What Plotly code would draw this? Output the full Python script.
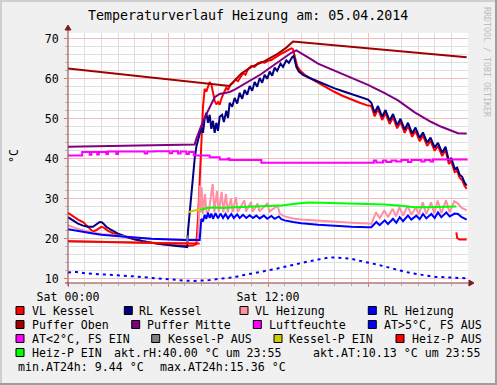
import plotly.graph_objects as go

# ---------------- data (hours since Sat 00:00, value) ----------------
VL_KESSEL = [(0,26.5),(0.3,25.6),(0.6,24.8),(0.9,24.2),(1.2,23.0),(1.5,21.8),(1.7,22.2),(2.0,23.0),(2.15,22.8),
    (2.4,22.0),(2.7,21.4),(3.0,21.0),(3.5,20.3),(4.0,19.8),(4.5,19.4),(5.0,19.0),(5.5,18.7),(6.0,18.5),(6.5,18.3),
    (7.0,18.2),(7.5,18.3),(7.7,18.7),(7.8,25),(7.9,36),(8.0,46),(8.1,53),(8.2,57.5),(8.3,56.8),(8.4,58.0),(8.5,59.2),
    (8.6,58.6),(8.7,56.0),(8.8,54.5),(8.9,53.6),(9.0,54.2),(9.1,53.5),(9.2,55.0),(9.35,56.5),(9.5,57.8),(9.6,57.2),
    (9.75,58.6),(9.9,59.0),(10.05,59.8),(10.2,59.4),(10.35,60.6),(10.5,61.4),(10.65,61.0),(10.8,62.4),(11.0,63.2),
    (11.2,63.0),(11.4,63.9),(11.6,64.2),(11.8,64.0),(12.0,64.5),(12.2,64.7),(12.4,65.3),(12.6,65.8),(12.8,66.3),
    (13.0,66.7),(13.2,67.2),(13.4,67.6),(13.5,67.4),(13.6,65.5),(13.75,63.2),(13.9,62.2),(14.2,61.0),(14.6,60.0),
    (15.0,59.0),(15.5,57.8),(16.0,56.7),(16.5,55.7),(17.0,54.8),(17.5,54.0),(18.0,53.3),(18.2,53.2),(18.4,50.6),
    (18.6,52.4),(18.85,49.7),(19.05,51.4),(19.3,48.7),(19.5,50.4),(19.75,47.6),(19.95,49.2),(20.2,46.5),(20.4,48.2),
    (20.65,45.5),(20.85,47.0),(21.1,44.4),(21.3,45.8),(21.55,43.2),(21.75,44.5),(22.0,42.0),(22.2,43.2),(22.45,40.7),
    (22.65,42.2),(22.85,38.7),(23.0,39.4),(23.2,36.7),(23.35,37.0),(23.5,35.2),(23.65,34.7),(23.8,33.2),(23.92,32.5)]

RL_KESSEL = [(0,25.4),(0.3,24.5),(0.6,23.8),(0.9,23.3),(1.2,23.0),(1.5,23.0),(1.7,23.6),(1.9,24.2),(2.05,24.1),
    (2.3,23.0),(2.6,22.2),(3.0,21.3),(3.5,20.5),(4.0,19.9),(4.5,19.4),(5.0,19.0),(5.5,18.7),(6.0,18.4),(6.5,18.2),
    (7.0,18.0),(7.15,17.9),(7.2,22),(7.3,27),(7.4,31),(7.5,35),(7.6,40),(7.7,43),(7.8,44.8),(7.9,46.5),(8.0,47.8),
    (8.1,46.5),(8.2,50.0),(8.3,51.5),(8.4,49.0),(8.5,51.0),(8.6,47.5),(8.7,49.5),(8.8,46.5),(8.9,49.0),(9.0,47.0),
    (9.1,50.5),(9.25,51.0),(9.35,49.2),(9.5,52.0),(9.6,50.2),(9.7,54.0),(9.85,53.0),(10.0,55.2),(10.15,53.8),
    (10.3,56.5),(10.45,55.0),(10.6,57.2),(10.75,56.0),(10.9,58.2),(11.05,57.0),(11.2,59.2),(11.35,58.0),(11.5,60.2),
    (11.65,59.0),(11.8,61.0),(11.95,60.0),(12.1,61.8),(12.25,60.8),(12.4,62.8),(12.55,62.0),(12.75,63.8),(12.9,63.0),
    (13.1,64.6),(13.25,64.0),(13.45,65.4),(13.55,65.7),(13.7,63.0),(13.85,61.8),(14.1,61.0),(14.5,60.2),(15.0,59.3),
    (15.5,58.4),(16.0,57.6),(16.5,56.9),(17.0,56.2),(17.5,55.5),(18.0,54.8),(18.2,54.0),(18.4,51.5),(18.6,53.2),
    (18.85,50.5),(19.05,52.2),(19.3,49.5),(19.5,51.2),(19.75,48.4),(19.95,50.0),(20.2,47.3),(20.4,49.0),(20.65,46.3),
    (20.85,47.8),(21.1,45.2),(21.3,46.6),(21.55,44.0),(21.75,45.3),(22.0,42.8),(22.2,44.0),(22.45,41.5),(22.65,43.0),
    (22.85,39.5),(23.0,40.2),(23.2,37.5),(23.35,37.8),(23.5,36.0),(23.65,35.5),(23.8,34.0),(23.92,33.3)]

VL_HEIZUNG = [(0,23.4),(0.5,22.6),(1.0,22.0),(1.5,21.5),(2.0,21.2),(3.0,20.7),(4.0,20.3),(5.0,20.0),(6.0,19.8),
    (7.0,19.7),(7.8,19.6),(7.85,24.5),(7.9,33.3),(7.95,26.5),(8.02,32.9),(8.1,26.3),(8.22,31.2),(8.32,26.5),
    (8.45,27.0),(8.68,33.7),(8.78,26.6),(8.94,32.0),(9.04,26.7),(9.22,31.7),(9.32,26.6),(9.48,31.2),(9.58,26.6),
    (9.78,30.0),(9.88,26.7),(10.08,30.4),(10.18,26.7),(10.58,29.6),(10.68,26.8),(10.98,29.2),(11.08,26.8),
    (11.38,28.8),(11.48,26.9),(11.98,28.9),(12.08,26.8),(12.58,28.3),(12.7,26.3),(13.0,25.6),(13.5,25.1),
    (14.0,24.8),(15.0,24.5),(16.0,24.2),(17.0,24.0),(18.0,23.8),(18.2,23.7),(18.48,26.6),(18.7,25.2),(18.98,27.1),
    (19.2,25.4),(19.48,27.5),(19.68,25.6),(19.88,27.9),(20.1,25.8),(20.38,28.3),(20.6,26.0),(20.88,27.9),(21.05,26.0),
    (21.28,29.1),(21.5,26.2),(21.78,29.1),(21.98,26.3),(22.18,29.6),(22.4,26.4),(22.68,29.6),(22.9,26.6),(23.18,29.4),
    (23.4,28.8),(23.6,27.8),(23.92,27.1)]

RL_HEIZUNG = [(0,22.4),(0.5,22.0),(1.0,21.6),(1.5,21.3),(2.0,21.0),(3.0,20.6),(4.0,20.3),(5.0,20.0),(6.0,19.8),
    (7.0,19.7),(7.9,19.7),(7.95,22.5),(8.0,25.0),(8.1,24.3),(8.2,26.0),(8.3,25.0),(8.4,26.5),(8.5,25.2),(8.6,26.3),
    (8.7,25.0),(8.85,26.4),(9.0,25.1),(9.15,26.3),(9.3,25.2),(9.45,26.2),(9.6,25.1),(9.8,26.2),(9.95,25.2),(10.15,26.1),
    (10.3,25.2),(10.5,26.0),(10.7,25.2),(10.9,25.9),(11.1,25.2),(11.3,25.8),(11.5,25.1),(11.75,25.8),(11.95,25.0),
    (12.2,25.7),(12.4,25.0),(12.65,25.6),(12.8,24.9),(13.0,24.6),(13.5,24.2),(14.0,23.9),(15.0,23.5),(16.0,23.2),
    (17.0,23.0),(18.0,22.9),(18.2,22.9),(18.5,24.2),(18.7,23.4),(19.0,24.6),(19.2,23.7),(19.5,25.0),(19.7,24.0),
    (19.9,25.4),(20.1,24.4),(20.4,25.8),(20.6,24.8),(20.9,25.8),(21.1,24.9),(21.3,26.2),(21.5,25.1),(21.8,26.2),
    (22.0,25.2),(22.2,26.6),(22.4,25.4),(22.7,26.6),(22.9,25.6),(23.2,26.3),(23.4,26.2),(23.6,25.5),(23.92,24.8)]

PUFFER_OBEN = [(0,62.6),(9.7,58.2),(10.0,59.6),(10.4,61.3),(11.0,63.0),(11.8,64.4),(12.6,66.3),(13.1,67.8),
    (13.5,69.3),(23.92,65.4)]

PUFFER_MITTE = [(0,43.0),(3.0,43.2),(6.0,43.4),(7.6,43.6),(7.7,45.0),(7.85,46.8),(8.0,48.3),(8.2,50.3),(8.4,52.1),
    (8.6,54.0),(8.8,55.4),(9.1,56.2),(9.4,56.5),(9.7,56.7),(10.0,57.3),(10.4,58.3),(10.8,59.2),(11.2,60.2),(11.6,61.2),
    (12.1,62.7),(12.6,64.2),(13.0,65.4),(13.4,66.5),(13.7,67.1),(14.0,66.4),(14.5,65.1),(15.0,63.8),(16.0,62.0),
    (17.0,60.4),(18.0,58.5),(19.0,56.4),(19.8,54.6),(20.8,51.6),(21.8,49.2),(22.4,48.0),(22.8,47.3),(23.2,46.6),
    (23.4,46.4),(23.92,46.3)]

LUFTFEUCHTE = [(0,40.8),(0.85,41.7),(1.3,41.0),(1.4,41.7),(1.75,41.1),(1.85,41.7),(2.3,41.2),(2.4,41.8),(2.9,41.2),
    (3.0,41.8),(4.6,41.3),(4.75,41.8),(5.2,41.9),(5.6,41.9),(6.1,41.4),(6.25,41.9),(6.6,41.3),(6.75,41.8),(7.1,41.2),
    (7.25,41.7),(7.55,40.8),(8.5,40.4),(9.1,39.8),(9.6,40.1),(9.7,39.7),(11.6,39.0),(18.35,39.6),(18.5,39.1),
    (18.9,39.6),(19.1,39.2),(19.4,39.6),(19.7,39.3),(20.0,39.7),(20.4,39.2),(20.6,39.7),(21.2,39.3),(21.4,39.7),
    (21.75,39.3),(21.9,39.8),(23.92,40.0)]

AT_AUSSEN = [(0,11.6),(0.5,11.7),(1,11.4),(1.5,11.2),(2,11.1),(2.5,11.0),(3,10.9),(3.5,10.8),(4,10.6),(4.5,10.4),
    (5,10.2),(5.5,10.0),(6,9.8),(6.5,9.7),(7,9.55),(7.5,9.44),(8,9.5),(8.5,9.7),(9,9.95),(9.5,10.1),(10,10.4),
    (10.5,10.9),(11,11.3),(11.5,11.6),(12,12.1),(12.5,12.5),(13,13.0),(13.5,13.5),(14,14.0),(14.5,14.4),(15,14.8),
    (15.5,15.2),(16,15.36),(16.5,15.1),(17,15.0),(17.5,14.5),(18,14.1),(18.5,13.6),(19,13.1),(19.5,12.5),(20,12.0),
    (20.5,11.5),(21,11.1),(21.5,10.8),(22,10.5),(22.5,10.4),(23,10.3),(23.5,10.2),(23.92,10.13)]

KESSEL_P_AUS = [(0,19.4),(2,19.2),(4,19.0),(6,18.9),(7.15,18.8),(7.17,20.8)]
KESSEL_P_EIN = [(7.2,26.6),(7.5,27.0),(7.9,27.3),(8.0,27.3)]
HEIZ_P_AUS = [(0,19.4),(2,19.2),(4,19.0),(6,18.9),(7.9,18.8),(None,None),(23.3,21.6),(23.35,20.2),(23.5,19.8),(23.92,19.8)]
HEIZ_P_EIN = [(7.95,27.2),(8.3,27.7),(8.8,27.8),(9.3,27.7),(10,27.9),(11,28.0),(12,28.2),(12.8,28.3),(13.5,28.7),
    (14.4,29.1),(15.2,29.0),(16,28.9),(16.8,28.9),(17.5,28.9),(18.3,28.8),(19,28.6),(19.8,28.3),(20.8,27.9),
    (21.5,27.9),(22.3,28.0),(23.3,28.1)]

X_TICKS = [0, 6, 12, 18]
X_TICK_TEXT = ["Sat 00:00", "", "Sat 12:00", ""]

TITLE = "Temperaturverlauf Heizung am: 05.04.2014"
# ---------------------------------------------------------------------

MONO = "DejaVu Sans Mono"
FS = 11.6
W, H = 497, 385
L, R, T, B = 68, 468, 33, 283

def px(x):
    return (x - L) / (R - L)

def py(y):
    return (B - y) / (B - T)

series = [
    ("VL Kessel", VL_KESSEL, "#FF0000", None),
    ("RL Kessel", RL_KESSEL, "#000080", None),
    ("VL Heizung", VL_HEIZUNG, "#FF8FA3", None),
    ("RL Heizung", RL_HEIZUNG, "#0000FF", None),
    ("Puffer Oben", PUFFER_OBEN, "#A00000", None),
    ("Puffer Mitte", PUFFER_MITTE, "#800080", None),
    ("Luftfeuchte", LUFTFEUCHTE, "#FF00FF", "hv"),
    ("AT>5°C, FS AUS", AT_AUSSEN, "#0000FF", "dash"),
    ("Kessel-P AUS", KESSEL_P_AUS, "#808080", None),
    ("Kessel-P EIN", KESSEL_P_EIN, "#CCCC00", None),
    ("Heiz-P AUS", HEIZ_P_AUS, "#FF0000", None),
    ("Heiz-P EIN", HEIZ_P_EIN, "#00FF00", None),
]

fig = go.Figure()
for name, data, color, style in series:
    xs = [p[0] for p in data]
    ys = [p[1] for p in data]
    line = dict(color=color, width=2)
    if style == "dash":
        line["dash"] = "3px,4px"
    if style == "hv":
        line["shape"] = "hv"
    fig.add_trace(go.Scatter(x=xs, y=ys, mode="lines", line=line, name=name,
                             connectgaps=False, hoverinfo="skip", showlegend=False))

MAJOR = "#F4BCBC"
MINOR = "#DEDEDE"
AXIS = "#8C3A3A"

fig.update_layout(
    width=W, height=H,
    margin=dict(l=L, r=W - R, t=T, b=H - B, pad=0),
    paper_bgcolor="#F0F0F0", plot_bgcolor="#FFFFFF",
    font=dict(family=MONO, size=FS, color="#000000"),
    xaxis=dict(range=[0, 24], tickvals=X_TICKS, ticktext=X_TICK_TEXT,
               showgrid=True, gridcolor=MAJOR, gridwidth=1, zeroline=False, showline=False,
               ticks="outside", ticklen=3, tickcolor="#E07070",
               minor=dict(tick0=0, dtick=1, showgrid=True, gridcolor=MINOR, ticks="outside",
                          ticklen=2, tickcolor="#B0B0B0"),
               tickfont=dict(family=MONO, size=FS), fixedrange=True),
    yaxis=dict(range=[8.95, 71.45], tick0=0, dtick=10,
               showgrid=True, gridcolor=MAJOR, gridwidth=1, zeroline=False, showline=False,
               ticks="outside", ticklen=3, tickcolor="#E07070",
               minor=dict(tick0=0, dtick=2, showgrid=True, gridcolor=MINOR, ticks="outside",
                          ticklen=2, tickcolor="#B0B0B0"),
               tickfont=dict(family=MONO, size=FS), ticklabelstandoff=3, fixedrange=True),
)

shapes = []
# frame shading
shapes.append(dict(type="line", xref="paper", yref="paper", x0=px(0), x1=px(W), y0=py(1), y1=py(1),
                   line=dict(color="#CFCFCF", width=2)))
shapes.append(dict(type="line", xref="paper", yref="paper", x0=px(1), x1=px(1), y0=py(0), y1=py(H),
                   line=dict(color="#CFCFCF", width=2)))
shapes.append(dict(type="line", xref="paper", yref="paper", x0=px(0), x1=px(W), y0=py(H - 1), y1=py(H - 1),
                   line=dict(color="#9E9E9E", width=2)))
shapes.append(dict(type="line", xref="paper", yref="paper", x0=px(W - 1), x1=px(W - 1), y0=py(0), y1=py(H),
                   line=dict(color="#9E9E9E", width=2)))
# axes with arrows
shapes.append(dict(type="line", xref="paper", yref="paper", x0=px(L), x1=px(L), y0=py(B + 3), y1=py(T - 4),
                   line=dict(color=AXIS, width=1)))
shapes.append(dict(type="line", xref="paper", yref="paper", x0=px(L - 3), x1=px(R + 3), y0=py(B), y1=py(B),
                   line=dict(color=AXIS, width=1)))
shapes.append(dict(type="path", xref="paper", yref="paper",
                   path=f"M {px(L-3)},{py(T-3)} L {px(L+3)},{py(T-3)} L {px(L)},{py(T-8)} Z",
                   fillcolor="#801F1F", line=dict(color="#801F1F", width=1)))
shapes.append(dict(type="path", xref="paper", yref="paper",
                   path=f"M {px(R+1)},{py(B-3)} L {px(R+1)},{py(B+3)} L {px(R+6)},{py(B)} Z",
                   fillcolor="#801F1F", line=dict(color="#801F1F", width=1)))

annotations = []
annotations.append(dict(text=TITLE, xref="paper", yref="paper", x=px(248), y=py(16),
                        xanchor="center", yanchor="middle", showarrow=False,
                        font=dict(family=MONO, size=13.3, color="#000000")))
annotations.append(dict(text="°C", xref="paper", yref="paper", x=px(14), y=py(156),
                        xanchor="center", yanchor="middle", showarrow=False, textangle=-90,
                        font=dict(family=MONO, size=FS, color="#000000")))
annotations.append(dict(text="RRDTOOL / TOBI OETIKER", xref="paper", yref="paper", x=px(487), y=py(62),
                        xanchor="center", yanchor="middle", showarrow=False, textangle=90,
                        font=dict(family=MONO, size=8.3, color="#BDBDBD")))

ROWS = [311, 325, 339, 353, 367]
legend_items = [
    ("VL Kessel", "#FF0000", 16, 30.7, 0),
    ("RL Kessel", "#000080", 124.3, 138.3, 0),
    ("VL Heizung", "#FF8FA3", 240, 254, 0),
    ("RL Heizung", "#0000FF", 368.3, 382.7, 0),
    ("Puffer Oben", "#A00000", 16, 30.7, 1),
    ("Puffer Mitte", "#800080", 131.7, 145.7, 1),
    ("Luftfeuchte", "#FF00FF", 253.3, 267.7, 1),
    ("AT>5°C, FS AUS", "#0000FF", 368.3, 382.7, 1),
    ("AT<2°C, FS EIN", "#FF00FF", 16, 30.7, 2),
    ("Kessel-P AUS", "#808080", 151.7, 166.7, 2),
    ("Kessel-P EIN", "#CCCC00", 274, 288.3, 2),
    ("Heiz-P AUS", "#FF0000", 396, 410.7, 2),
    ("Heiz-P EIN", "#00FF00", 16, 30.7, 3),
]
for label, color, sx, tx, r in legend_items:
    cy = ROWS[r] - 0.5
    shapes.append(dict(type="rect", xref="paper", yref="paper", x0=px(sx), x1=px(sx + 8),
                       y0=py(cy - 4), y1=py(cy + 4), fillcolor=color, line=dict(color="#000000", width=1)))
    annotations.append(dict(text=label, xref="paper", yref="paper", x=px(tx - 1), y=py(ROWS[r]),
                            xanchor="left", yanchor="middle", showarrow=False,
                            font=dict(family=MONO, size=FS, color="#000000")))

texts = [
    ("akt.rH:40.00 °C um 23:55", 112.7, 3),
    ("akt.AT:10.13 °C um 23:55", 312.3, 3),
    ("min.AT24h: 9.44 °C", 16.7, 4),
    ("max.AT24h:15.36 °C", 158.7, 4),
]
for label, tx, r in texts:
    annotations.append(dict(text=label, xref="paper", yref="paper", x=px(tx - 1), y=py(ROWS[r]),
                            xanchor="left", yanchor="middle", showarrow=False,
                            font=dict(family=MONO, size=FS, color="#000000")))

fig.update_layout(shapes=shapes, annotations=annotations)
fig.write_html("out.html", config={"displayModeBar": False},
               post_script="document.body.style.margin='0';document.body.style.overflow='hidden';")
